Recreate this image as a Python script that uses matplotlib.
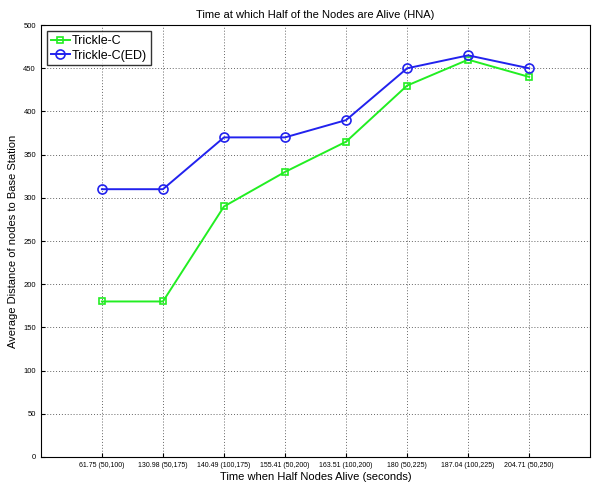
import numpy as np
from matplotlib import pyplot as plt

labels = ["61.75 (50,100)", "130.98 (50,175)", "140.49 (100,175)", "155.41 (50,200)",
          "163.51 (100,200)", "180 (50,225)", "187.04 (100,225)", "204.71 (50,250)"]
trickle_c = [180, 180, 290, 330, 365, 430, 460, 440]
trickle_ed = [310, 310, 370, 370, 390, 450, 465, 450]

plt.rcParams['font.family'] = ['Liberation Sans', 'DejaVu Sans']

x = np.arange(1, len(labels) + 1)

fig = plt.figure(figsize=(5.92, 4.83), dpi=100)
ax = fig.add_axes([0.069, 0.054, 0.928, 0.894])

ax.plot(x, trickle_c, color="#22ee22", marker="s", mfc="none", ms=5, mew=1.2, lw=1.4, label="Trickle-C")
ax.plot(x, trickle_ed, color="#2222ee", marker="o", mfc="none", ms=6.5, mew=1.2, lw=1.4, label="Trickle-C(ED)")

ax.set_xlim(0, 9)
ax.set_ylim(0, 500)
ax.set_xticks(x)
ax.set_xticklabels(labels, fontsize=5)
ax.set_yticks(np.arange(0, 501, 50))
ax.tick_params(axis="y", labelsize=5.5)
ax.tick_params(direction="in", length=3)
ax.grid(True, color="#666666", linestyle=(0, (1, 2)), lw=0.7)

ax.set_title("Time at which Half of the Nodes are Alive (HNA)", fontsize=8, pad=5)
ax.set_xlabel("Time when Half Nodes Alive (seconds)", fontsize=8, labelpad=2)
ax.set_ylabel("Average Distance of nodes to Base Station", fontsize=8, labelpad=4)

ax.legend(loc="upper left", fancybox=False, edgecolor="black",
          handlelength=1.5, borderpad=0.3, labelspacing=0.2, handletextpad=0.2,
          prop={"size": 9})

fig.savefig("out.png", dpi=100)
